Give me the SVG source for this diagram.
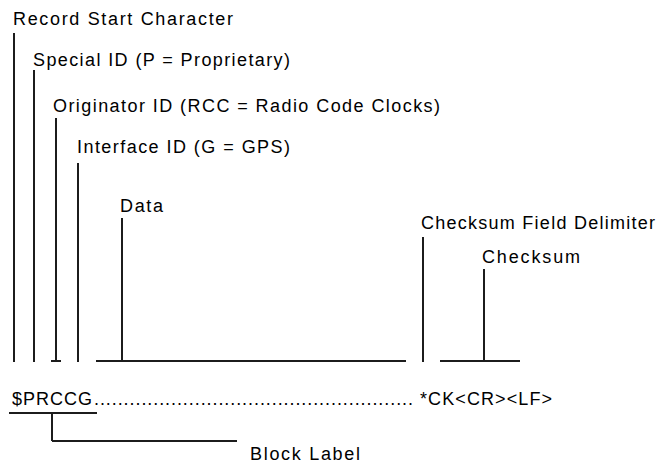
<svg xmlns="http://www.w3.org/2000/svg" width="657" height="463" viewBox="0 0 657 463">
<style>
text{font-family:"Liberation Sans",Arial,sans-serif;font-size:18px;fill:#000}
.ln{stroke:#1c1c1c;stroke-width:2;fill:none;stroke-linecap:butt}
</style>
<rect width="657" height="463" fill="#fff"/>
<g id="record-start"><text x="13" y="25" textLength="220" lengthAdjust="spacing">Record Start Character</text></g>
<g id="special-id"><text x="33" y="66" textLength="257" lengthAdjust="spacing">Special ID (P = Proprietary)</text></g>
<g id="originator-id"><text x="53" y="112" textLength="387" lengthAdjust="spacing">Originator ID (RCC = Radio Code Clocks)</text></g>
<g id="interface-id"><text x="77" y="153" textLength="213" lengthAdjust="spacing">Interface ID (G = GPS)</text></g>
<g id="data"><text x="120" y="212" textLength="43" lengthAdjust="spacing">Data</text></g>
<g id="checksum-delim"><text x="421" y="229" textLength="234" lengthAdjust="spacing">Checksum Field Delimiter</text></g>
<g id="checksum"><text x="482" y="263" textLength="98" lengthAdjust="spacing">Checksum</text></g>
<g id="sentence">
<text x="12" y="405" textLength="80" lengthAdjust="spacing">$PRCCG</text>
<text x="94" y="405" textLength="319" lengthAdjust="spacing">......................................................</text>
<text x="420" y="405" textLength="132" lengthAdjust="spacing">*CK&lt;CR&gt;&lt;LF&gt;</text>
</g>
<g id="block-label"><text x="250" y="460" textLength="110" lengthAdjust="spacing">Block Label</text></g>
<g id="connectors" class="ln">
<line x1="14" y1="33" x2="14" y2="362"/>
<line x1="34" y1="70" x2="34" y2="362"/>
<line x1="56" y1="118" x2="56" y2="361"/>
<line x1="51" y1="361" x2="61" y2="361"/>
<line x1="78" y1="163" x2="78" y2="362"/>
<line x1="122" y1="218" x2="122" y2="361"/>
<line x1="96" y1="361" x2="406" y2="361"/>
<line x1="423" y1="237" x2="423" y2="362"/>
<line x1="484" y1="269" x2="484" y2="361"/>
<line x1="440" y1="361" x2="520" y2="361"/>
<line x1="9" y1="413" x2="97" y2="413"/>
<line x1="52" y1="413" x2="52" y2="441"/>
<line x1="52" y1="441" x2="237" y2="441"/>
</g>
</svg>
